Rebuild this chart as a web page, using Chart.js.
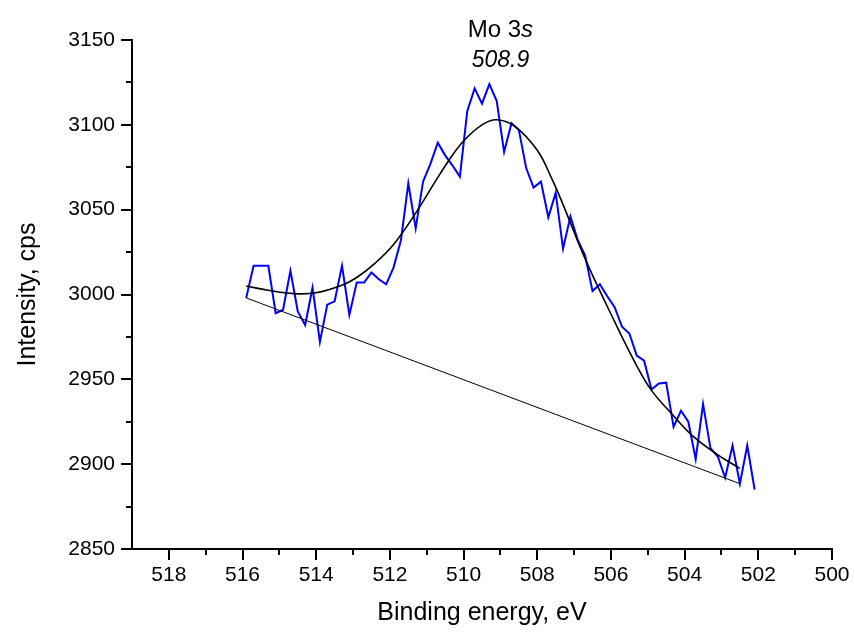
<!DOCTYPE html>
<html>
<head>
<meta charset="utf-8">
<script src="https://cdn.jsdelivr.net/npm/chart.js@4.4.0/dist/chart.umd.min.js"></script>
<style>
  body { margin: 0; background: #fff; }
  canvas { display: block; }
</style>
</head>
<body>
<canvas id="xpsChart" width="855" height="632"></canvas>
<script>
// measured spectrum, Mo 3s region (0.2 eV step)
const energy = [
  515.9, 515.7, 515.5, 515.3, 515.1, 514.9, 514.7, 514.5, 514.3, 514.1,
  513.9, 513.7, 513.5, 513.3, 513.1, 512.9, 512.7, 512.5, 512.3, 512.1,
  511.9, 511.7, 511.5, 511.3, 511.1, 510.9, 510.7, 510.5, 510.3, 510.1,
  509.9, 509.7, 509.5, 509.3, 509.1, 508.9, 508.7, 508.5, 508.3, 508.1,
  507.9, 507.7, 507.5, 507.3, 507.1, 506.9, 506.7, 506.5, 506.3, 506.1,
  505.9, 505.7, 505.5, 505.3, 505.1, 504.9, 504.7, 504.5, 504.3, 504.1,
  503.9, 503.7, 503.5, 503.3, 503.1, 502.9, 502.7, 502.5, 502.3, 502.1
];
const intensity = [
  2998, 3017, 3017, 3017, 2989, 2991, 3014, 2990, 2982, 3004,
  2972, 2994, 2996, 3017, 2988, 3007, 3007, 3013, 3009, 3006,
  3016, 3032, 3065.5, 3039, 3066.5, 3077, 3089.5, 3082, 3076, 3069.5,
  3108, 3121.5, 3112.5, 3124, 3114, 3084, 3101, 3097, 3074.5, 3063,
  3066.5, 3045.5, 3060, 3027, 3046, 3032, 3023, 3002, 3006, 2999,
  2992.5, 2981, 2977, 2964, 2961, 2944, 2947.5, 2948, 2922, 2931.5,
  2925, 2903, 2935.5, 2909.5, 2904.5, 2892, 2911, 2888.5, 2911, 2885
];

// fitted envelope
const fitEnergy = [
  515.9, 515.3, 514.6, 514.0, 513.3, 512.9, 512.4, 511.9, 511.3, 510.8,
  510.4, 510.0, 509.5, 509.1, 508.6, 508.0, 507.6, 507.3, 506.7, 505.9,
  505.3, 504.9, 504.3, 503.8, 503.1, 502.5
];
const fitIntensity = [
  3005, 3002.5, 3000.5, 3001, 3005.5, 3010, 3018.5, 3029.5, 3048, 3065.5,
  3079, 3090.5, 3100, 3103, 3099, 3085, 3068, 3053, 3021, 2984,
  2958, 2943.5, 2928.5, 2917, 2905.5, 2897.5
];

// linear background
const bgEnergy = [515.9, 502.5];
const bgIntensity = [2998, 2888.5];

// axis ticks
const xTicks = [518, 516, 514, 512, 510, 508, 506, 504, 502, 500];
const xMinor = [517, 515, 513, 511, 509, 507, 505, 503, 501];
const yTicks = [2850, 2900, 2950, 3000, 3050, 3100, 3150];
const yMinor = [2875, 2925, 2975, 3025, 3075, 3125];

const peakLabel = "508.9";
const peakPos = 509.0;

const FONT = "'Liberation Sans', Arial, sans-serif";

const toPoints = (xs, ys) => xs.map((x, i) => ({ x: x, y: ys[i] }));

// === minor ticks + peak annotation ===
const extras = {
  id: "extras",
  afterDraw(chart) {
    const { ctx, chartArea, scales } = chart;
    ctx.save();
    ctx.strokeStyle = "#000";
    ctx.lineWidth = 2;
    xMinor.forEach(v => {
      const px = Math.round(scales.x.getPixelForValue(v));
      ctx.beginPath();
      ctx.moveTo(px, chartArea.bottom);
      ctx.lineTo(px, chartArea.bottom + 6);
      ctx.stroke();
    });
    yMinor.forEach(v => {
      const py = Math.round(scales.y.getPixelForValue(v));
      ctx.beginPath();
      ctx.moveTo(chartArea.left, py);
      ctx.lineTo(chartArea.left - 6, py);
      ctx.stroke();
    });

    // "Mo 3s" with italic s, then peak position
    const cx = scales.x.getPixelForValue(peakPos);
    ctx.fillStyle = "#000";
    ctx.textBaseline = "alphabetic";
    ctx.font = "24px " + FONT;
    const part1 = "Mo 3";
    const w1 = ctx.measureText(part1).width;
    ctx.font = "italic 24px " + FONT;
    const w2 = ctx.measureText("s").width;
    const x0 = cx - (w1 + w2) / 2;
    ctx.font = "24px " + FONT;
    ctx.textAlign = "left";
    ctx.fillText(part1, x0, chartArea.top - 3);
    ctx.font = "italic 24px " + FONT;
    ctx.fillText("s", x0 + w1, chartArea.top - 3);

    ctx.font = "italic 23px " + FONT;
    ctx.textAlign = "center";
    ctx.fillText(peakLabel, cx, chartArea.top + 27);
    ctx.restore();
  }
};

new Chart(document.getElementById("xpsChart"), {
  type: "line",
  data: {
    datasets: [
      {
        label: "Fit",
        data: toPoints(fitEnergy, fitIntensity),
        borderColor: "#000",
        borderWidth: 1.6,
        pointRadius: 0,
        tension: 0.4,
        fill: false
      },
      {
        label: "Background",
        data: toPoints(bgEnergy, bgIntensity),
        borderColor: "#000",
        borderWidth: 1,
        pointRadius: 0,
        fill: false
      },
      {
        label: "Mo 3s",
        data: toPoints(energy, intensity),
        borderColor: "#0000ff",
        borderWidth: 2,
        pointRadius: 0,
        tension: 0,
        fill: false
      }
    ]
  },
  options: {
    responsive: false,
    animation: false,
    devicePixelRatio: 1,
    layout: { padding: { left: 0, top: 40, right: 23, bottom: 0 } },
    plugins: {
      legend: { display: false },
      tooltip: { enabled: false }
    },
    scales: {
      x: {
        type: "linear",
        reverse: true,
        min: 500,
        max: 519,
        afterBuildTicks: s => { s.ticks = xTicks.map(v => ({ value: v })); },
        afterFit: s => { s.height = 83; },
        border: { display: true, color: "#000", width: 2 },
        grid: { drawOnChartArea: false, drawTicks: true, tickLength: 11, color: "#000", lineWidth: 2 },
        ticks: { color: "#000", font: { family: FONT, size: 21 }, padding: 3, maxRotation: 0,
                 callback: v => String(v) },
        title: {
          display: true,
          text: "Binding energy, eV",
          color: "#000",
          font: { family: FONT, size: 25 },
          padding: { top: 0, bottom: 4 }
        }
      },
      y: {
        type: "linear",
        min: 2850,
        max: 3150,
        afterBuildTicks: s => { s.ticks = yTicks.map(v => ({ value: v })); },
        afterFit: s => { s.width = 132; },
        border: { display: true, color: "#000", width: 2 },
        grid: { drawOnChartArea: false, drawTicks: true, tickLength: 11, color: "#000", lineWidth: 2 },
        ticks: { color: "#000", font: { family: FONT, size: 21 }, padding: 6,
                 callback: v => String(v) },
        title: {
          display: true,
          text: "Intensity, cps",
          color: "#000",
          font: { family: FONT, size: 25 },
          padding: { top: 13, bottom: 0 }
        }
      }
    }
  },
  plugins: [extras]
});
</script>
</body>
</html>
